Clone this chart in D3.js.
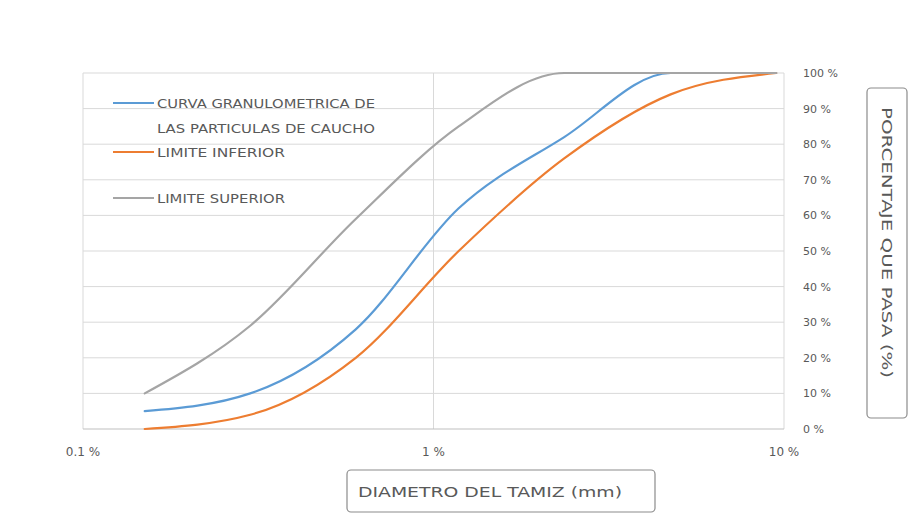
<!DOCTYPE html>
<html>
<head>
<meta charset="utf-8">
<script src="https://cdn.jsdelivr.net/npm/d3@7"></script>
<style>
  html, body { margin: 0; padding: 0; background: #fff; }
  svg { display: block; }
  text { font-family: "DejaVu Sans", sans-serif; fill: #595959; }
</style>
</head>
<body>
<svg id="chart" width="912" height="520"></svg>
<script>
// ---- data ----
const sieveSizes = [0.15, 0.3, 0.6, 1.18, 2.36, 4.75, 9.5];
const curvaCaucho = [5, 10, 28, 62, 82, 100, 100];
const limiteInferior = [0, 4, 20, 50, 76, 94, 100];
const limiteSuperior = [10, 29, 59, 85, 100, 100, 100];
const xTickValues = [0.1, 1, 10];
const xTickLabels = ["0.1 %", "1 %", "10 %"];
const yTickValues = [0, 10, 20, 30, 40, 50, 60, 70, 80, 90, 100];
const yTickLabels = ["0 %", "10 %", "20 %", "30 %", "40 %", "50 %", "60 %", "70 %", "80 %", "90 %", "100 %"];
const seriesNames = [["CURVA GRANULOMETRICA DE", "LAS PARTICULAS DE CAUCHO"], ["LIMITE INFERIOR"], ["LIMITE SUPERIOR"]];
const xTitle = "DIAMETRO DEL TAMIZ (mm)";
const yTitle = "PORCENTAJE QUE PASA (%)";

const series = [
  { name: seriesNames[0], values: curvaCaucho, color: "#5b9bd5" },
  { name: seriesNames[1], values: limiteInferior, color: "#ed7d31" },
  { name: seriesNames[2], values: limiteSuperior, color: "#a5a5a5" }
];

const svg = d3.select("#chart");
const plot = { left: 83, right: 784, top: 73, bottom: 429 };

const x = d3.scaleLog().domain([0.1, 10]).range([plot.left, plot.right]);
const y = d3.scaleLinear().domain([0, 100]).range([plot.bottom, plot.top]);

// horizontal gridlines
svg.append("g").selectAll("line").data(yTickValues.filter(v => v > 0)).join("line")
  .attr("x1", plot.left).attr("x2", plot.right)
  .attr("y1", d => y(d)).attr("y2", d => y(d))
  .attr("stroke", "#d9d9d9").attr("stroke-width", 1);

// vertical gridlines
svg.append("g").selectAll("line").data(xTickValues).join("line")
  .attr("x1", d => x(d)).attr("x2", d => x(d))
  .attr("y1", plot.top).attr("y2", plot.bottom)
  .attr("stroke", "#d9d9d9").attr("stroke-width", 1);

// x axis line
svg.append("line")
  .attr("x1", plot.left).attr("x2", plot.right)
  .attr("y1", y(0)).attr("y2", y(0))
  .attr("stroke", "#bfbfbf").attr("stroke-width", 1.2);

// x tick labels
svg.append("g").selectAll("text").data(xTickValues).join("text")
  .attr("x", d => x(d)).attr("y", plot.bottom + 27)
  .attr("text-anchor", "middle")
  .attr("font-size", 12)
  .text((d, i) => xTickLabels[i]);

// y tick labels (right side)
svg.append("g").selectAll("text").data(yTickValues).join("text")
  .attr("x", 803).attr("y", d => y(d) + 4)
  .attr("text-anchor", "start")
  .attr("font-size", 11)
  .text((d, i) => yTickLabels[i]);

// lines
const line = d3.line()
  .x((d, i) => x(sieveSizes[i]))
  .y(d => y(d))
  .curve(d3.curveMonotoneX);

svg.append("g").selectAll("path").data(series).join("path")
  .attr("d", d => line(d.values))
  .attr("fill", "none")
  .attr("stroke", d => d.color)
  .attr("stroke-width", 2.2)
  .attr("stroke-linecap", "round");

// legend
const legendRows = [103, 152, 198];
const lg = svg.append("g");
series.forEach((s, i) => {
  const yy = legendRows[i];
  lg.append("line")
    .attr("x1", 113).attr("x2", 154)
    .attr("y1", yy).attr("y2", yy)
    .attr("stroke", s.color).attr("stroke-width", 2.2);
  s.name.forEach((t, j) => {
    lg.append("text")
      .attr("x", 157).attr("y", yy + 4.5 + j * 25)
      .attr("font-size", 11.5)
      .attr("textLength", t.length > 20 ? 218 : 128)
      .attr("lengthAdjust", "spacingAndGlyphs")
      .text(t);
  });
});

// x axis title box
svg.append("rect")
  .attr("x", 347).attr("y", 470).attr("width", 308).attr("height", 42)
  .attr("rx", 4).attr("fill", "#fff")
  .attr("stroke", "#8c8c8c").attr("stroke-width", 1.2);
svg.append("text")
  .attr("x", 358).attr("y", 497)
  .attr("font-size", 14)
  .attr("textLength", 264)
  .attr("lengthAdjust", "spacingAndGlyphs")
  .text(xTitle);

// y axis title box
svg.append("rect")
  .attr("x", 867).attr("y", 88).attr("width", 40).attr("height", 330)
  .attr("rx", 4).attr("fill", "#fff")
  .attr("stroke", "#8c8c8c").attr("stroke-width", 1.2);
svg.append("text")
  .attr("transform", "translate(882,107) rotate(90)")
  .attr("font-size", 14)
  .attr("textLength", 271)
  .attr("lengthAdjust", "spacingAndGlyphs")
  .text(yTitle);
</script>
</body>
</html>
